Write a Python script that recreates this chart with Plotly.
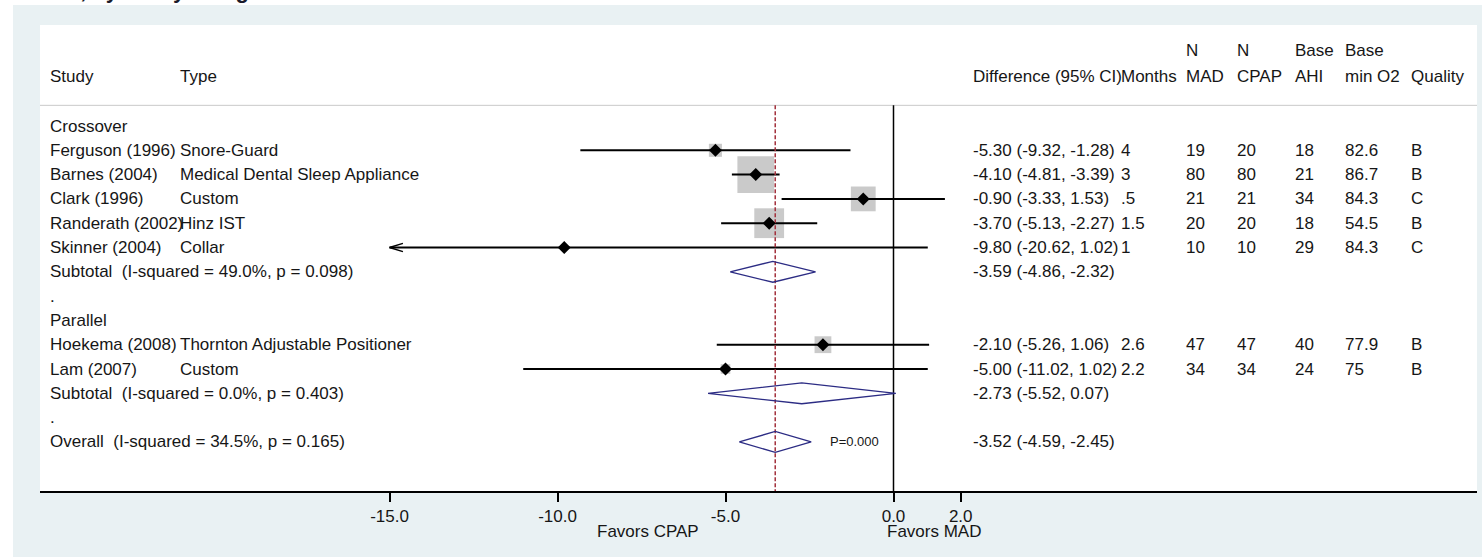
import plotly.graph_objects as go
import numpy as np

W, H = 1482, 557

# ---------------- data ----------------
studies = ["Ferguson (1996)", "Barnes (2004)", "Clark (1996)", "Randerath (2002)",
           "Skinner (2004)", "Hoekema (2008)", "Lam (2007)"]
types = ["Snore-Guard", "Medical Dental Sleep Appliance", "Custom", "Hinz IST",
         "Collar", "Thornton Adjustable Positioner", "Custom"]
groups = ["Crossover", "Crossover", "Crossover", "Crossover", "Crossover",
          "Parallel", "Parallel"]
est = [-5.30, -4.10, -0.90, -3.70, -9.80, -2.10, -5.00]
lo = [-9.32, -4.81, -3.33, -5.13, -20.62, -5.26, -11.02]
hi = [-1.28, -3.39, 1.53, -2.27, 1.02, 1.06, 1.02]
weights = [5.0, 39.5, 18.0, 26.0, 0.5, 8.3, 2.7]
months = ["4", "3", ".5", "1.5", "1", "2.6", "2.2"]
n_mad = ["19", "80", "21", "20", "10", "47", "34"]
n_cpap = ["20", "80", "21", "20", "10", "47", "34"]
base_ahi = ["18", "21", "34", "18", "29", "40", "24"]
base_o2 = ["82.6", "86.7", "84.3", "54.5", "84.3", "77.9", "75"]
quality = ["B", "B", "C", "B", "C", "B", "B"]

sub_groups = ["Crossover", "Parallel"]
sub_est = [-3.59, -2.73]
sub_lo = [-4.86, -5.52]
sub_hi = [-2.32, 0.07]
sub_i2 = ["49.0%", "0.0%"]
sub_p = ["0.098", "0.403"]

overall_est, overall_lo, overall_hi = -3.52, -4.59, -2.45
overall_i2, overall_p, overall_z_p = "34.5%", "0.165", "0.000"

tick_vals = [-15, -10, -5, 0, 2]
tick_text = ["-15.0", "-10.0", "-5.0", "0.0", "2.0"]
favors = ["Favors CPAP", "Favors MAD"]
title_text = "C. AHI, by Study design"

# ---------------- layout constants ----------------
FONT = "Liberation Sans, Arial, sans-serif"
TXT = "#161616"
FS = 17
PX_PER_UNIT = 33.6
ZERO_PX = 893.5
PANEL_L, PANEL_R, PANEL_T, PANEL_B = 40, 1477, 25, 491
ROW0_PX, ROW_PX = 126, 24.3
x_min_plot = tick_vals[0]

def xp(px):
    return px / W

def yp(py):
    return 1 - py / H

# assign rows
row_of_study = {}
r = 0
layout_rows = []
for gi, g in enumerate(sub_groups):
    layout_rows.append(("group", g, r)); r += 1
    for i, s in enumerate(studies):
        if groups[i] == g:
            row_of_study[i] = r
            layout_rows.append(("study", i, r)); r += 1
    layout_rows.append(("sub", gi, r)); r += 1
    layout_rows.append(("dot", None, r)); r += 1
overall_row = r

y_top = (PANEL_T - ROW0_PX) / ROW_PX
y_bot = (PANEL_B - ROW0_PX) / ROW_PX
sep_row = -0.85

fig = go.Figure()

# squares (weights)
sq_x = [est[i] for i in range(len(studies))]
sq_y = [row_of_study[i] for i in range(len(studies))]
sq_size = [5.84 * np.sqrt(w) for w in weights]
fig.add_trace(go.Scatter(x=sq_x, y=sq_y, mode="markers",
                         marker=dict(symbol="square", size=sq_size, color="#b3b3b3",
                                     line=dict(width=0)),
                         hoverinfo="skip", showlegend=False))

# zero line
fig.add_trace(go.Scatter(x=[0, 0], y=[sep_row, y_bot], mode="lines",
                         line=dict(color="black", width=1.5),
                         hoverinfo="skip", showlegend=False))

# CI lines
cx, cy = [], []
ax_, ay_ = [], []
for i in range(len(studies)):
    left = max(lo[i], x_min_plot)
    cx += [left, hi[i], None]
    cy += [row_of_study[i]] * 2 + [None]
    if lo[i] < x_min_plot:
        ax_ += [x_min_plot + 0.4, x_min_plot, x_min_plot + 0.4, None]
        ay_ += [row_of_study[i] - 0.17, row_of_study[i], row_of_study[i] + 0.17, None]
fig.add_trace(go.Scatter(x=cx, y=cy, mode="lines", line=dict(color="black", width=2),
                         hoverinfo="skip", showlegend=False))
fig.add_trace(go.Scatter(x=ax_, y=ay_, mode="lines", line=dict(color="black", width=1.5),
                         hoverinfo="skip", showlegend=False))

# overall dashed line
fig.add_trace(go.Scatter(x=[overall_est, overall_est], y=[sep_row, y_bot], mode="lines",
                         line=dict(color="#a3303c", width=1.5, dash="4px,2px"),
                         hoverinfo="skip", showlegend=False))

# point estimates
fig.add_trace(go.Scatter(x=sq_x, y=sq_y, mode="markers",
                         marker=dict(symbol="diamond", size=10, color="black"),
                         hoverinfo="skip", showlegend=False))

# diamonds
dh = 0.43
dx, dy = [], []
sub_rows = [rw for k, p, rw in layout_rows if k == "sub"]
for gi in range(len(sub_groups)):
    rr = sub_rows[gi]
    dx += [sub_lo[gi], sub_est[gi], sub_hi[gi], sub_est[gi], sub_lo[gi], None]
    dy += [rr, rr - dh, rr, rr + dh, rr, None]
dx += [overall_lo, overall_est, overall_hi, overall_est, overall_lo]
dy += [overall_row, overall_row - dh, overall_row, overall_row + dh, overall_row]
fig.add_trace(go.Scatter(x=dx, y=dy, mode="lines", line=dict(color="#2c2c84", width=1.3),
                         hoverinfo="skip", showlegend=False))

# ---------------- text ----------------
ann = []
def text(px, row, s, size=FS, anchor="left", yref="y", color=TXT):
    ann.append(dict(x=xp(px), xref="paper", y=row, yref=yref, text=s,
                    showarrow=False, xanchor=anchor, yanchor="middle",
                    font=dict(family=FONT, size=size, color=color)))

COL = dict(study=48, type=178, diff=971, months=1119, nmad=1184, ncpap=1235,
           ahi=1293, o2=1343, qual=1409)

h1, h2 = -3.1, -2.05
text(COL["nmad"], h1, "N"); text(COL["ncpap"], h1, "N")
text(COL["ahi"], h1, "Base"); text(COL["o2"], h1, "Base")
text(COL["study"], h2, "Study"); text(COL["type"], h2, "Type")
text(COL["diff"], h2, "Difference (95% CI)"); text(COL["months"], h2, "Months")
text(COL["nmad"], h2, "MAD"); text(COL["ncpap"], h2, "CPAP")
text(COL["ahi"], h2, "AHI"); text(COL["o2"], h2, "min O2"); text(COL["qual"], h2, "Quality")

def fmt(e, l, h):
    return "%.2f (%.2f, %.2f)" % (e, l, h)

for kind, p, rw in layout_rows:
    if kind == "group":
        text(COL["study"], rw, p)
    elif kind == "dot":
        text(COL["study"], rw, ".")
    elif kind == "study":
        i = p
        text(COL["study"], rw, studies[i])
        text(COL["type"], rw, types[i])
        text(COL["diff"], rw, fmt(est[i], lo[i], hi[i]))
        text(COL["months"], rw, months[i])
        text(COL["nmad"], rw, n_mad[i])
        text(COL["ncpap"], rw, n_cpap[i])
        text(COL["ahi"], rw, base_ahi[i])
        text(COL["o2"], rw, base_o2[i])
        text(COL["qual"], rw, quality[i])
    elif kind == "sub":
        gi = p
        text(COL["study"], rw, "Subtotal  (I-squared = %s, p = %s)" % (sub_i2[gi], sub_p[gi]))
        text(COL["diff"], rw, fmt(sub_est[gi], sub_lo[gi], sub_hi[gi]))
text(COL["study"], overall_row, "Overall  (I-squared = %s, p = %s)" % (overall_i2, overall_p))
text(COL["diff"], overall_row, fmt(overall_est, overall_lo, overall_hi))
ann.append(dict(x=overall_hi, xref="x", xshift=17, y=overall_row, yref="y",
                text="P=%s" % overall_z_p, showarrow=False, xanchor="left", yanchor="middle",
                font=dict(family=FONT, size=13, color=TXT)))

# favors labels
ann.append(dict(x=-7.3, xref="x", y=yp(531), yref="paper", text=favors[0], showarrow=False,
                xanchor="center", yanchor="middle", font=dict(family=FONT, size=FS, color=TXT)))
ann.append(dict(x=-0.25, xref="x", y=yp(531), yref="paper", text=favors[1], showarrow=False,
                xanchor="left", yanchor="middle", font=dict(family=FONT, size=FS, color=TXT)))

# title (cut off at top)
ann.append(dict(x=xp(13), xref="paper", y=yp(5), yref="paper", text="<b>%s</b>" % title_text,
                showarrow=False, xanchor="left", yanchor="bottom",
                font=dict(family=FONT, size=22, color="#1a1a2a")))

shapes = [
    dict(type="rect", xref="paper", yref="paper", x0=xp(13), x1=1, y0=0, y1=yp(5),
         fillcolor="#e9f1f3", line=dict(width=0), layer="below"),
    dict(type="rect", xref="paper", yref="paper", x0=xp(PANEL_L), x1=xp(PANEL_R),
         y0=yp(PANEL_B), y1=yp(PANEL_T), fillcolor="white", line=dict(width=0), layer="below"),
    dict(type="line", xref="paper", yref="y", x0=xp(PANEL_L), x1=xp(PANEL_R),
         y0=sep_row, y1=sep_row, line=dict(color="#c9c9c9", width=1), layer="below"),
]

fig.update_layout(
    width=W, height=H, margin=dict(l=0, r=0, t=0, b=0),
    paper_bgcolor="white", plot_bgcolor="rgba(0,0,0,0)",
    showlegend=False, annotations=ann, shapes=shapes,
    xaxis=dict(domain=[xp(PANEL_L), xp(PANEL_R)],
               range=[(PANEL_L - ZERO_PX) / PX_PER_UNIT, (PANEL_R - ZERO_PX) / PX_PER_UNIT],
               showgrid=False, zeroline=False, showline=True, linecolor="black", linewidth=2,
               ticks="outside", ticklen=9, tickwidth=1.5, tickcolor="black",
               tickvals=tick_vals, ticktext=tick_text,
               tickfont=dict(family=FONT, size=FS, color=TXT), ticklabelstandoff=0,
               fixedrange=True),
    yaxis=dict(domain=[yp(PANEL_B), yp(PANEL_T)], range=[y_bot, y_top],
               showgrid=False, zeroline=False, showline=False, showticklabels=False,
               ticks="", fixedrange=True),
)

fig.write_html("out.html")
